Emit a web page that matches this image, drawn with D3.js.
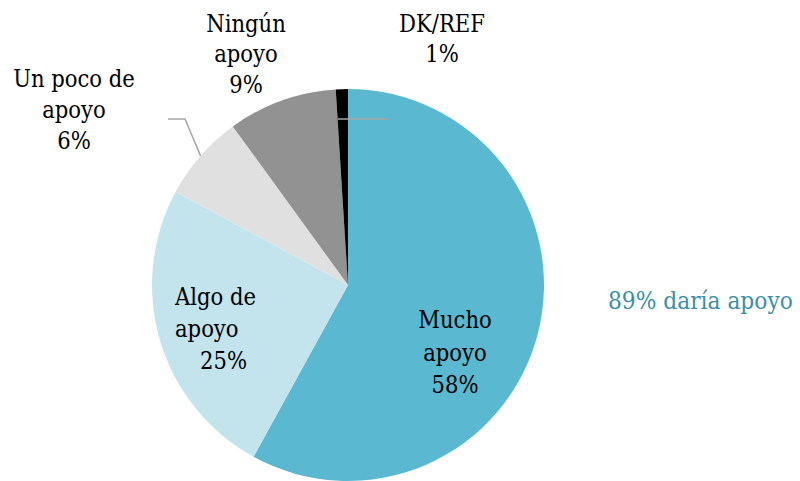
<!DOCTYPE html>
<html>
<head>
<meta charset="utf-8">
<script src="https://cdn.jsdelivr.net/npm/d3@7"></script>
<style>
  html, body { margin: 0; padding: 0; background: #fff; }
  svg { display: block; }
</style>
</head>
<body>
<svg id="chart" width="800" height="481"></svg>
<script>
// Data
const categories = ["Mucho apoyo", "Algo de apoyo", "Un poco de apoyo", "Ningún apoyo", "DK/REF"];
const values = [58.0, 24.9, 7.1, 9.0, 1.0];
const percentLabels = ["58%", "25%", "6%", "9%", "1%"];
const labelLines = [["Mucho", "apoyo", "58%"], ["Algo de", "apoyo", "25%"], ["Un poco de", "apoyo", "6%"], ["Ningún", "apoyo", "9%"], ["DK/REF", "1%"]];
const colors = ["#5BB8D1", "#C3E4ED", "#E0E0E0", "#929292", "#000000"];
const annotation = "89% daría apoyo";

const FONT = "'DejaVu Serif Condensed', 'DejaVu Serif', serif";

const svg = d3.select("#chart");
const cx = 348, cy = 285, R = 196;
const g = svg.append("g").attr("transform", `translate(${cx},${cy})`);

const pie = d3.pie().sort(null).value(d => d)(values);
const arc = d3.arc().innerRadius(0).outerRadius(R);

g.selectAll("path.slice").data(pie).join("path")
  .attr("class", "slice")
  .attr("d", arc)
  .attr("fill", (d, i) => colors[i]);

const polar = (a, r) => [r * Math.sin(a), -r * Math.cos(a)];
const mid = d => (d.startAngle + d.endAngle) / 2;

{
  const p = polar(mid(pie[2]), R);
  g.append("polyline")
    .attr("points", [[-180, 119 - cy], [-163, 119 - cy], p].map(q => q.join(",")).join(" "))
    .attr("fill", "none").attr("stroke", "#A6A6A6").attr("stroke-width", 1.5);
}
{
  const p = polar(mid(pie[4]), 166);
  g.append("line")
    .attr("x1", p[0] - 5).attr("y1", p[1])
    .attr("x2", p[0] + 46).attr("y2", p[1])
    .attr("stroke", "#A6A6A6").attr("stroke-width", 1.5);
}

const labelPos = [
  { x: 455, y: 328, anchor: "middle", lh: 32.5, dx: [0, 0, 0] },
  { x: 175, y: 305, anchor: "start", lh: 32, dx: [0, 0, 25] },
  { x: 74, y: 87, anchor: "middle", lh: 31, dx: [0, 0, 0] },
  { x: 246, y: 31.5, anchor: "middle", lh: 30.5, dx: [0, 0, 0] },
  { x: 442, y: 31.5, anchor: "middle", lh: 30.5, dx: [0, 0] }
];

labelLines.forEach((lines, i) => {
  const lp = labelPos[i];
  const t = svg.append("text")
    .attr("text-anchor", lp.anchor)
    .style("font-family", FONT)
    .style("font-stretch", "condensed")
    .attr("font-size", 23.5)
    .attr("fill", "#000");
  lines.forEach((s, j) => {
    t.append("tspan")
      .attr("x", lp.x + lp.dx[j])
      .attr("y", lp.y + j * lp.lh)
      .text(s);
  });
});

svg.append("text")
  .attr("x", 608).attr("y", 309)
  .style("font-family", FONT)
  .style("font-stretch", "condensed")
  .attr("font-size", 24.2)
  .attr("fill", "#3A8FA6")
  .text(annotation);
</script>
</body>
</html>
